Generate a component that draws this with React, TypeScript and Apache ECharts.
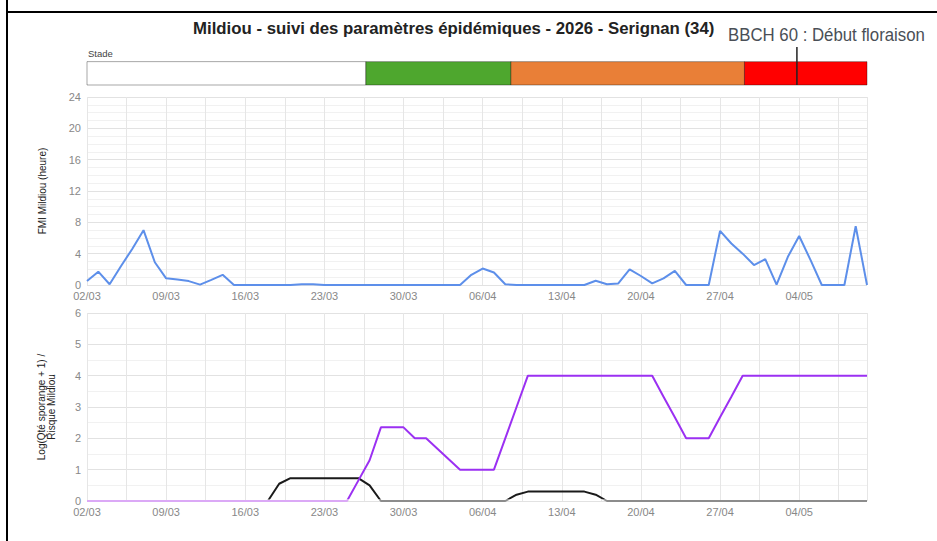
import React, { useEffect, useRef } from 'react';
import * as echarts from 'echarts';

const chartTitle = 'Mildiou - suivi des paramètres épidémiques - 2026 - Serignan (34)';
const fmiAxisName = 'FMI Mildiou (heure)';
const riskAxisName = 'Log(Qté sporange + 1) /\nRisque Mildiou';
const stadeLabel = 'Stade';
const bbchLabel = 'BBCH 60 : Début floraison';

const dates = [
  '02/03', '03/03', '04/03', '05/03', '06/03', '07/03', '08/03', '09/03', '10/03', '11/03',
  '12/03', '13/03', '14/03', '15/03', '16/03', '17/03', '18/03', '19/03', '20/03', '21/03',
  '22/03', '23/03', '24/03', '25/03', '26/03', '27/03', '28/03', '29/03', '30/03', '31/03',
  '01/04', '02/04', '03/04', '04/04', '05/04', '06/04', '07/04', '08/04', '09/04', '10/04',
  '11/04', '12/04', '13/04', '14/04', '15/04', '16/04', '17/04', '18/04', '19/04', '20/04',
  '21/04', '22/04', '23/04', '24/04', '25/04', '26/04', '27/04', '28/04', '29/04', '30/04',
  '01/05', '02/05', '03/05', '04/05', '05/05', '06/05', '07/05', '08/05', '09/05', '10/05',
];

const fmi = [
  0.5, 1.7, 0.1, 2.4, 4.6, 7.0, 2.9, 0.85, 0.7, 0.5,
  0.05, 0.65, 1.3, 0, 0, 0, 0, 0, 0, 0.1,
  0.1, 0, 0, 0, 0, 0, 0, 0, 0, 0,
  0, 0, 0, 0, 1.3, 2.1, 1.6, 0.1, 0, 0,
  0, 0, 0, 0, 0, 0.55, 0.1, 0.2, 2.0, 1.15,
  0.2, 0.85, 1.8, 0, 0, 0, 6.9, 5.3, 4.0, 2.55,
  3.3, 0.05, 3.6, 6.25, 3.2, 0, 0, 0, 7.5, 0,
];

const sporange = [
  0, 0, 0, 0, 0, 0, 0, 0, 0, 0,
  0, 0, 0, 0, 0, 0, 0, 0.55, 0.73, 0.73,
  0.73, 0.73, 0.73, 0.73, 0.73, 0.5, 0, 0, 0, 0,
  0, 0, 0, 0, 0, 0, 0, 0, 0.2, 0.3,
  0.3, 0.3, 0.3, 0.3, 0.3, 0.2, 0, 0, 0, 0,
  0, 0, 0, 0, 0, 0, 0, 0, 0, 0,
  0, 0, 0, 0, 0, 0, 0, 0, 0, 0,
];

const risque = [
  0, 0, 0, 0, 0, 0, 0, 0, 0, 0,
  0, 0, 0, 0, 0, 0, 0, 0, 0, 0,
  0, 0, 0, 0, 0.65, 1.3, 2.35, 2.35, 2.35, 2.0,
  2.0, 1.67, 1.33, 1.0, 1.0, 1.0, 1.0, 2.0, 3.0, 4.0,
  4, 4, 4, 4, 4, 4, 4, 4, 4, 4,
  4, 3.33, 2.67, 2.0, 2.0, 2.0, 2.67, 3.33, 4.0, 4,
  4, 4, 4, 4, 4, 4, 4, 4, 4, 4,
];

// Stade boundaries (in days from 02/03)
const stadeBounds = [0, 24.67, 37.5, 58.16, 69];
const stadeColors = ['#ffffff', '#4ea72e', '#e97f37', '#ff0000'];
const bbchDay = 62.8;

const FONT = "'Liberation Sans', Arial, sans-serif";

export default function App() {
  const ref = useRef<HTMLDivElement>(null);

  useEffect(() => {
    if (!ref.current) return;
    const chart = echarts.init(ref.current, undefined, { renderer: 'svg' });

    const lastDay = dates.length - 1;
    const gridLeft = 87;
    const gridWidth = 780;
    const stadeBarTop = 0.615; // fraction of the stade strip covered by the bar

    const xBase = (gridIndex: number) => ({
      type: 'value',
      gridIndex,
      min: 0,
      max: lastDay,
      interval: 3.5,
      axisLine: { show: false },
      axisTick: { show: false },
      axisLabel: {
        color: '#888',
        fontSize: 11,
        fontFamily: FONT,
        margin: 5,
        formatter: (v: number) => (Number.isInteger(v) && v % 7 === 0 ? dates[v] : ''),
      },
      splitLine: { show: true, lineStyle: { color: '#e6e6e6', width: 1 } },
    });

    const xs = dates.map((_, i) => i);

    const option: any = {
      animation: false,
      backgroundColor: '#ffffff',
      title: {
        text: chartTitle,
        left: 193,
        top: 19,
        padding: 0,
        textStyle: { fontSize: 16.8, fontWeight: 'bold', color: '#222', fontFamily: FONT, lineHeight: 18 },
      },
      grid: [
        { left: gridLeft, width: gridWidth, top: 47, height: 38 },
        { left: gridLeft, width: gridWidth, top: 97, height: 188 },
        { left: gridLeft, width: gridWidth, top: 313, height: 188 },
      ],
      xAxis: [
        { type: 'value', gridIndex: 0, min: 0, max: lastDay, show: false },
        xBase(1),
        xBase(2),
      ],
      yAxis: [
        { type: 'value', gridIndex: 0, min: 0, max: 1, show: false },
        {
          type: 'value',
          gridIndex: 1,
          min: 0,
          max: 24,
          interval: 4,
          name: fmiAxisName,
          nameLocation: 'middle',
          nameGap: 40,
          nameTextStyle: { fontSize: 10, color: '#222', fontFamily: FONT },
          axisLine: { show: false },
          axisTick: { show: false },
          axisLabel: { color: '#888', fontSize: 11, fontFamily: FONT, margin: 6 },
          splitLine: { lineStyle: { color: '#e2e2e2' } },
          minorTick: { show: false, splitNumber: 4 },
          minorSplitLine: { show: true, lineStyle: { color: '#f1f1f1' } },
        },
        {
          type: 'value',
          gridIndex: 2,
          min: 0,
          max: 6,
          interval: 1,
          name: riskAxisName,
          nameLocation: 'middle',
          nameGap: 31,
          nameTextStyle: { fontSize: 10, color: '#222', fontFamily: FONT, lineHeight: 10 },
          axisLine: { show: false },
          axisTick: { show: false },
          axisLabel: { color: '#888', fontSize: 11, fontFamily: FONT, margin: 6 },
          splitLine: { lineStyle: { color: '#e2e2e2' } },
          minorTick: { show: false, splitNumber: 2 },
          minorSplitLine: { show: true, lineStyle: { color: '#f1f1f1' } },
        },
      ],
      visualMap: [
        {
          type: 'piecewise',
          show: false,
          seriesIndex: 3,
          dimension: 1,
          pieces: [
            { gte: -10, lt: 0.05, color: '#8c8c8c' },
            { gte: 0.05, lte: 100, color: '#1a1a1a' },
          ],
        },
        {
          type: 'piecewise',
          show: false,
          seriesIndex: 4,
          dimension: 1,
          pieces: [
            { gte: -10, lt: 0.05, color: '#dba9f6' },
            { gte: 0.05, lte: 100, color: '#9b30f2' },
          ],
        },
      ],
      series: [
        {
          type: 'custom',
          name: 'Stade',
          xAxisIndex: 0,
          yAxisIndex: 0,
          silent: true,
          encode: { x: [0, 1] },
          data: stadeColors.map((_, i) => [stadeBounds[i], stadeBounds[i + 1]]),
          renderItem: (params: any, api: any) => {
            const p0 = api.coord([api.value(0), 0]);
            const p1 = api.coord([api.value(1), stadeBarTop]);
            return {
              type: 'rect',
              shape: { x: p0[0], y: p1[1], width: p1[0] - p0[0], height: p0[1] - p1[1] },
              style: { fill: stadeColors[params.dataIndex], stroke: 'rgba(0,0,0,0.35)', lineWidth: 1 },
            };
          },
        },
        {
          type: 'line',
          name: 'BBCH',
          xAxisIndex: 0,
          yAxisIndex: 0,
          silent: true,
          showSymbol: false,
          data: [[bbchDay, 0], [bbchDay, 1]],
          lineStyle: { color: '#222', width: 1.5 },
          z: 5,
        },
        {
          type: 'line',
          name: 'FMI',
          xAxisIndex: 1,
          yAxisIndex: 1,
          data: xs.map((x, i) => [x, fmi[i]]),
          showSymbol: false,
          lineStyle: { color: '#5d8fea', width: 2 },
          itemStyle: { color: '#5d8fea' },
          silent: true,
        },
        {
          type: 'line',
          name: 'Sporange',
          xAxisIndex: 2,
          yAxisIndex: 2,
          data: xs.map((x, i) => [x, sporange[i]]),
          showSymbol: false,
          lineStyle: { width: 2 },
          silent: true,
        },
        {
          type: 'line',
          name: 'Risque',
          xAxisIndex: 2,
          yAxisIndex: 2,
          data: xs.map((x, i) => [x, risque[i]]),
          showSymbol: false,
          lineStyle: { width: 2 },
          silent: true,
        },
      ],
      graphic: [
        { type: 'rect', silent: true, shape: { x: 6, y: 0, width: 2, height: 541 }, style: { fill: '#000' } },
        { type: 'rect', silent: true, shape: { x: 6, y: 11, width: 931, height: 2 }, style: { fill: '#000' } },
        {
          type: 'text',
          silent: true,
          x: 88,
          y: 53,
          style: { text: stadeLabel, fill: '#444', fontSize: 9.5, fontFamily: FONT, verticalAlign: 'middle', align: 'left' },
        },
        {
          type: 'text',
          silent: true,
          x: 728,
          y: 34.5,
          scaleX: 0.96,
          style: { text: bbchLabel, fill: '#4a4f56', fontSize: 17.5, fontFamily: FONT, verticalAlign: 'middle', align: 'left' },
        },
      ],
    };

    chart.setOption(option);
    return () => chart.dispose();
  }, []);

  return (
    <div
      ref={ref}
      style={{ position: 'absolute', left: 0, top: 0, width: 937, height: 541, background: '#fff' }}
    />
  );
}
